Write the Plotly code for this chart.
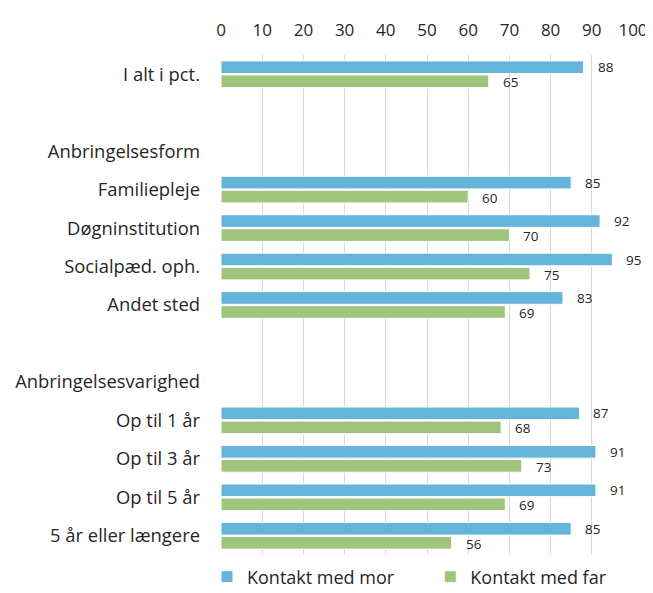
import plotly.graph_objects as go

categories = ["I alt i pct.", " ", "Anbringelsesform", "Familiepleje", "Døgninstitution",
              "Socialpæd. oph.", "Andet sted", "  ", "Anbringelsesvarighed",
              "Op til 1 år", "Op til 3 år", "Op til 5 år", "5 år eller længere"]
mor = [88, None, None, 85, 92, 95, 83, None, None, 87, 91, 91, 85]
far = [65, None, None, 60, 70, 75, 69, None, None, 68, 73, 69, 56]
x_ticks = [0, 10, 20, 30, 40, 50, 60, 70, 80, 90, 100]

FONT = "Open Sans"
TXT = "#262626"
BLUE = "#64b5d9"
GREEN = "#9fc47c"

fig = go.Figure()
fig.add_trace(go.Bar(y=categories, x=mor, orientation="h", name="Kontakt med mor",
                     marker=dict(color=BLUE, line=dict(color="white", width=1)),
                     legend="legend"))
fig.add_trace(go.Bar(y=categories, x=far, orientation="h", name="Kontakt med far",
                     marker=dict(color=GREEN, line=dict(color="white", width=1)),
                     legend="legend2"))

annotations = []
for tr_i, vals in enumerate([mor, far]):
    for c, v in zip(categories, vals):
        if v is None:
            continue
        annotations.append(dict(x=v, y=c, text=str(v), showarrow=False, xanchor="left",
                                xshift=12, yshift=(7 if tr_i == 0 else -8),
                                font=dict(family=FONT, size=13.5, color=TXT)))

legend_font = dict(family=FONT, size=18, color=TXT)
fig.update_layout(
    width=645, height=585,
    margin=dict(l=213, r=20, t=47, b=38, autoexpand=False),
    paper_bgcolor="white", plot_bgcolor="white",
    barmode="group", bargap=0.27, bargroupgap=0.1,
    font=dict(family=FONT, color=TXT),
    annotations=annotations,
    showlegend=True,
    legend=dict(orientation="h", x=-0.034, xanchor="left", y=-0.044, yanchor="middle",
                font=legend_font, bgcolor="rgba(0,0,0,0)", borderwidth=0),
    legend2=dict(orientation="h", x=0.508, xanchor="left", y=-0.044, yanchor="middle",
                 font=legend_font, bgcolor="rgba(0,0,0,0)", borderwidth=0),
    xaxis=dict(side="top", range=[0, 100], tickvals=x_ticks, ticktext=[str(t) for t in x_ticks],
               showgrid=True, gridcolor="#d9d9d9", gridwidth=1, zeroline=False,
               showline=False, ticks="", tickfont=dict(family=FONT, size=17, color=TXT),
               ticklabelstandoff=15, fixedrange=True, automargin=False),
    yaxis=dict(categoryorder="array", categoryarray=categories, autorange="reversed",
               showgrid=False, zeroline=False, showline=False, ticks="",
               tickfont=dict(family=FONT, size=18.4, color=TXT), ticklabelstandoff=20,
               automargin=False),
)

fig.write_html("out.html")
